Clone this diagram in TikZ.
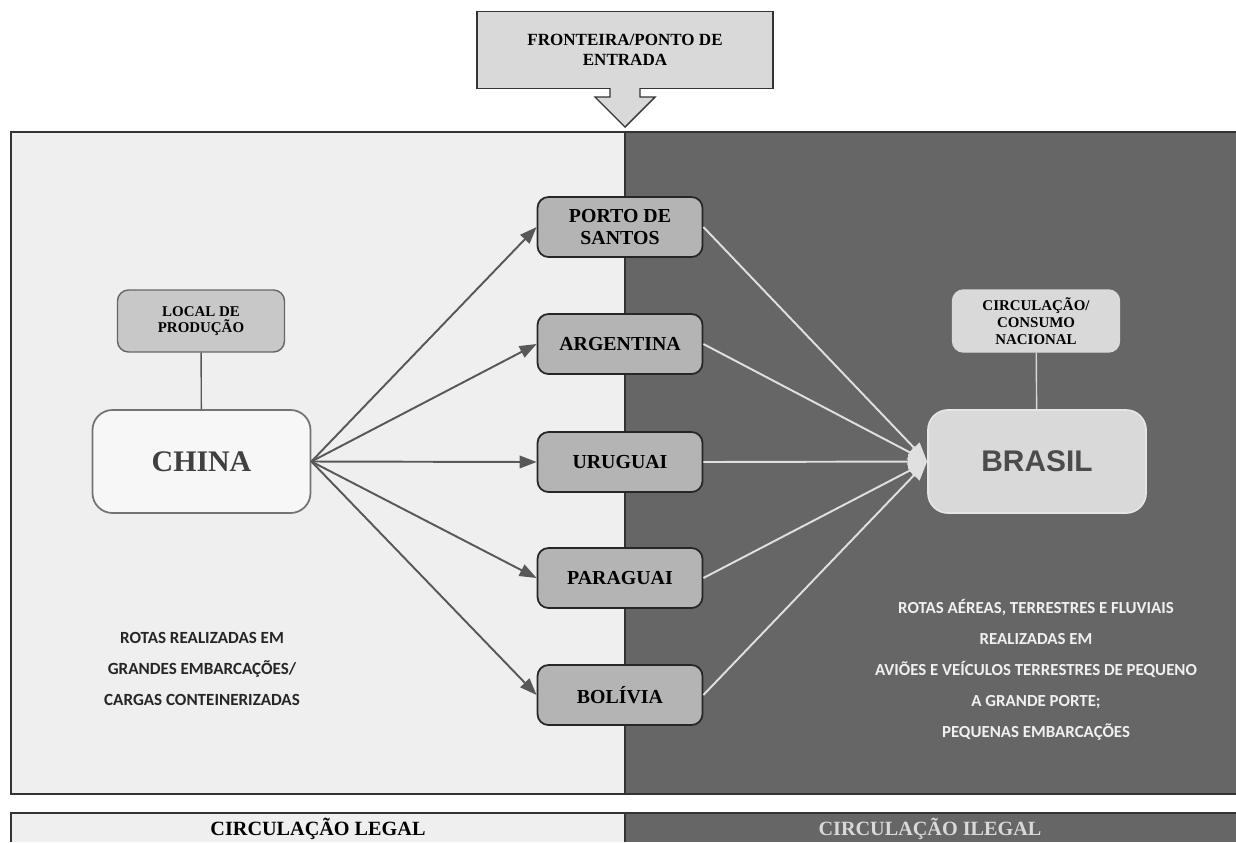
\documentclass[tikz,border=0pt]{standalone}
\usepackage{fontspec}
\setmainfont{Liberation Serif}
\newfontfamily\calfont{Carlito}
\newfontfamily\arialfont{Liberation Sans}
\usetikzlibrary{arrows.meta}
\pgfdeclarelayer{bg}
\pgfsetlayers{bg,main}
\definecolor{legalgray}{HTML}{EFEFEF}
\definecolor{ilegalgray}{HTML}{666666}
\definecolor{midgray}{HTML}{B4B4B4}
\definecolor{lightbox}{HTML}{D9D9D9}
\definecolor{localgray}{HTML}{C8C8C8}
\definecolor{linegray}{HTML}{585858}
\tikzset{
    every node/.style={align=center, inner sep=0mm, font=\bfseries},
    routebox/.style={rectangle, rounded corners=2.2mm, draw=black!85, line width=1pt,
        fill=midgray, minimum width=3.3cm, minimum height=1.2cm, font=\bfseries\fontsize{11.3}{12.5}\selectfont},
    tagbox/.style={rectangle, rounded corners=2.2mm, line width=0.8pt,
        minimum width=3.34cm, minimum height=1.24cm, font=\bfseries\fontsize{8.5}{9.5}\selectfont},
    bigbox/.style={rectangle, rounded corners=4mm, line width=1pt,
        minimum width=4.36cm, minimum height=2.06cm},
    rotatext/.style={draw=none, font=\calfont\bfseries\fontsize{9.7}{17.6}\selectfont}
}
\begin{document}
\begin{tikzpicture}[x=0.2mm, y=-0.2mm]
    \useasboundingbox (0,0) rectangle (1236,842);
    \fill[white] (0,0) rectangle (1236,842);

    % fundos
    \fill[legalgray] (11,132) rectangle (625,794);
    \fill[ilegalgray] (625,132) rectangle (1236,794);
    \draw[black!80, line width=1.2pt] (1236,132) -- (11,132) -- (11,794) -- (1236,794);
    \draw[black!80, line width=1pt] (625,132) -- (625,794);
    \fill[legalgray] (11,813) rectangle (625,842);
    \fill[ilegalgray] (625,813) rectangle (1236,842);
    \draw[black!80, line width=1.2pt] (1236,813) -- (11,813) -- (11,842);
    \draw[black!80, line width=1pt] (625,813) -- (625,842);
    \node (legal) at (318,829) {\fontsize{11.5}{12}\selectfont CIRCULAÇÃO LEGAL};
    \node (ilegal) at (930,829) [text=lightbox] {\fontsize{11.5}{12}\selectfont CIRCULAÇÃO ILEGAL};

    % fronteira
    \node (front) at (625,50) [rectangle, draw=black!80, line width=0.8pt, fill=lightbox,
        minimum width=5.92cm, minimum height=1.54cm, font=\bfseries\fontsize{9.7}{11.5}\selectfont]
        {FRONTEIRA/PONTO DE\\ENTRADA};
    \draw[black!80, line width=0.8pt, fill=lightbox]
        (610,88) -- (610,97) -- (595,97) -- (625,127) -- (655,97) -- (640,97) -- (640,88);

    % nós
    \node (local) at (201,321) [tagbox, draw=black!60, fill=localgray] {LOCAL DE\\PRODUÇÃO};
    \node (china) at (201.5,461.5) [bigbox, draw=black!55, fill=white!97!black,
        text=black!75, font=\bfseries\fontsize{17}{18}\selectfont] {CHINA};
    \node (circ) at (1036,321) [tagbox, draw=white!85!black, fill=lightbox] {CIRCULAÇÃO/\\CONSUMO\\NACIONAL};
    \node (brasil) at (1037,461.5) [bigbox, draw=white!90!black, fill=lightbox,
        text=black!70, font=\arialfont\bfseries\fontsize{17}{18}\selectfont] {BRASIL};

    \node (santos) at (620,227) [routebox] {PORTO DE\\SANTOS};
    \node (arg) at (620,344) [routebox] {ARGENTINA};
    \node (uru) at (620,462) [routebox] {URUGUAI};
    \node (par) at (620,578) [routebox] {PARAGUAI};
    \node (bol) at (620,695) [routebox] {BOLÍVIA};

    \draw[linegray, line width=0.8pt] (local) -- (china);
    \draw[white!85!black, line width=0.8pt] (circ) -- (brasil);

    \foreach \r in {santos,arg,uru,par,bol} {
        \draw[linegray, line width=1.1pt, -{Triangle[length=3.4mm, width=2.5mm]}] (china.east) -- (\r.west);
        \draw[white!88!black, line width=1.1pt, -{Triangle[length=3.8mm, width=3mm]}] (\r.east) -- (brasil.west);
    }

    % textos das rotas
    \node (legaltxt) at (202,669) [rotatext, text=black!85]
        {ROTAS REALIZADAS EM\\GRANDES EMBARCAÇÕES/\\CARGAS CONTEINERIZADAS};
    \node (ilegaltxt) at (1036,670) [rotatext, text=white!94!black, font=\calfont\bfseries\fontsize{9.6}{17.6}\selectfont]
        {ROTAS AÉREAS, TERRESTRES E FLUVIAIS\\REALIZADAS EM\\AVIÕES E VEÍCULOS TERRESTRES DE PEQUENO\\A GRANDE PORTE;\\PEQUENAS EMBARCAÇÕES};
\end{tikzpicture}
\end{document}
